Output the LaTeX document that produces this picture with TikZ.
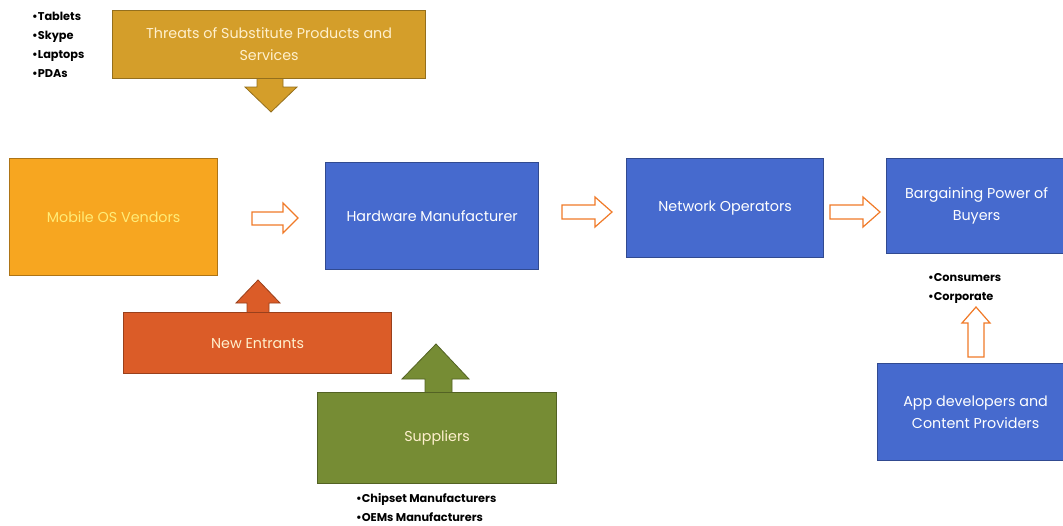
\documentclass[tikz,border=0pt]{standalone}
\usepackage{fontspec}
\setmainfont{Poppins}
\definecolor{goldbox}{RGB}{212,158,42}
\definecolor{orangebox}{RGB}{247,166,32}
\definecolor{bluebox}{RGB}{70,106,206}
\definecolor{redbox}{RGB}{219,92,40}
\definecolor{greenbox}{RGB}{118,140,52}
\definecolor{arrowline}{RGB}{240,122,40}
\definecolor{paleyellow}{RGB}{255,236,120}
\definecolor{cream}{RGB}{255,240,205}
\begin{document}
\begin{tikzpicture}[x=1pt,y=-1pt,
  box/.style={draw=#1!70!black, fill=#1, line width=1.2pt, inner sep=2pt,
    align=center, anchor=north west, text=white,
    font=\fontsize{14.3}{22}\selectfont},
  note/.style={anchor=north west, align=left, inner sep=0pt,
    font=\fontsize{11.3}{19}\selectfont\bfseries},
  hollow/.style={draw=arrowline, fill=white, line width=1.2pt, line join=miter}]
\useasboundingbox (0,0) rectangle (1063,525);

% attached block arrows (drawn first so the boxes sit on top of the shafts)
\filldraw[fill=goldbox, draw=goldbox!70!black, line width=0.8pt]
  (257,76) -- (257,87) -- (245,87) -- (271,112) -- (297,87) -- (283,87) -- (283,76);
\filldraw[fill=redbox, draw=redbox!70!black, line width=0.8pt]
  (247,314) -- (247,303) -- (236,303) -- (258,280) -- (280,303) -- (269,303) -- (269,314);
\filldraw[fill=greenbox, draw=greenbox!70!black, line width=0.8pt]
  (425,394) -- (425,379) -- (402,379) -- (436,344) -- (469,379) -- (452,379) -- (452,394);

% boxes
\node[box=goldbox, text=cream, minimum width=313pt, minimum height=68pt] (threats) at (112,10)
  {Threats of Substitute Products and\\Services};
\node[box=orangebox, text=paleyellow, minimum width=208pt, minimum height=117pt] (os) at (9,158)
  {Mobile OS Vendors};
\node[box=bluebox, minimum width=213pt, minimum height=107pt] (hw) at (325,162)
  {Hardware Manufacturer};
\node[box=bluebox, minimum width=197pt, minimum height=99pt] (net) at (626,158)
  {Network Operators};
\node[box=bluebox, minimum width=180pt, minimum height=95pt] (buyers) at (886,158)
  {Bargaining Power of\\Buyers};
\node[box=bluebox, minimum width=196pt, minimum height=97pt] (apps) at (877,363)
  {App developers and\\Content Providers};
\node[box=redbox, text=cream, minimum width=268pt, minimum height=61pt] (entrants) at (123,312)
  {New Entrants};
\node[box=greenbox, text=cream, minimum width=239pt, minimum height=91pt] (suppliers) at (317,392)
  {Suppliers};

% hollow flow arrows
\draw[hollow] (252,212) -- (283,212) -- (283,203) -- (298,218) -- (283,233) -- (283,225) -- (252,225) -- cycle;
\draw[hollow] (562,205) -- (595,205) -- (595,197) -- (612,212) -- (595,227) -- (595,219) -- (562,219) -- cycle;
\draw[hollow] (830,205) -- (863,205) -- (863,197) -- (880,212) -- (863,227) -- (863,219) -- (830,219) -- cycle;
\draw[hollow] (968,357) -- (968,323) -- (962,323) -- (976,307) -- (990,323) -- (984,323) -- (984,357) -- cycle;

% bullet notes
\node[note] (subst) at (32,12) {\textbullet Tablets\\\textbullet Skype\\\textbullet Laptops\\\textbullet PDAs};
\node[note] (buyerlist) at (928,273) {\textbullet Consumers\\\textbullet Corporate};
\node[note] (supplist) at (356,493) {\textbullet Chipset Manufacturers\\\textbullet OEMs Manufacturers};
\end{tikzpicture}
\end{document}
